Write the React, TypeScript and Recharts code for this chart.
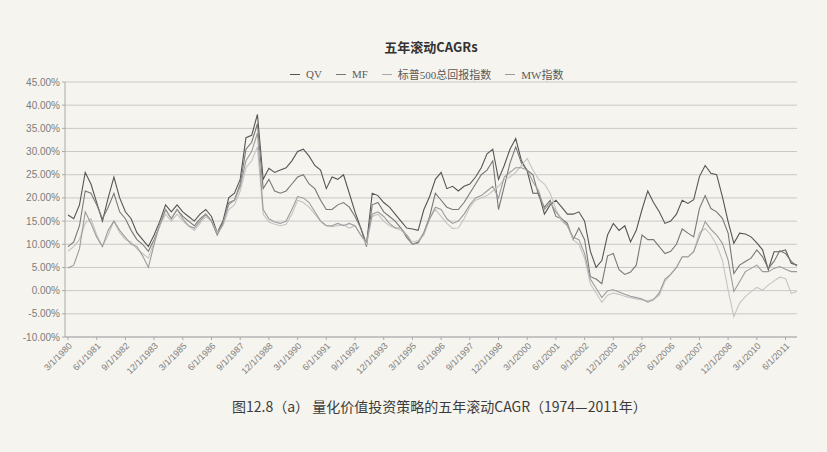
import React from 'react';
import { LineChart, Line, XAxis, YAxis, CartesianGrid } from 'recharts';

// quarterly points, 3/1980 .. 12/2011
const dates = Array.from({ length: 128 }, (_, i) => `${3 + (i % 4) * 3}/1/${1980 + Math.floor(i / 4)}`);

const qv = [
  16.3, 15.5, 18.5, 25.5, 23, 19, 15, 20, 24.5, 20,
  17, 15.5, 12.5, 11, 9.5, 12, 15, 18.5, 17, 18.5,
  17, 16, 15, 16.5, 17.5, 16, 12.5, 15, 20, 21,
  24, 33, 33.5, 38, 24, 26.4, 25.5, 26, 26.5, 28,
  30, 30.5, 29, 27, 26, 22, 24.5, 24, 25, 21,
  17, 13.5, 10, 21, 20.5, 19, 18, 16.5, 15, 13.5,
  13.3, 13, 17.5, 20.3, 24, 25.5, 22, 22.5, 21.5, 22.5,
  23, 24.5, 26.5, 29.5, 30.5, 24, 27, 30.5, 32.8, 28,
  25.8, 21, 21, 16.5, 18.5, 19.5, 18, 16.5, 16.5, 17,
  15, 8.5, 5, 6.5, 12, 14.5, 13, 14, 10.5, 13,
  17.5, 21.5, 19, 17, 14.5, 15, 16.5, 19.5, 18.8, 19.6,
  24.6, 27, 25.3, 25, 20.3, 14.9, 10.2, 12.4, 12.2, 11.6,
  10.3, 8.8, 4.5, 8.4, 8.4, 8.8, 5.9, 5.5,
];

const mf = [
  9.5, 10.5, 14, 21.5, 21, 18.5, 15.5, 18, 21, 17,
  15.5, 13, 11, 10, 8.5, 11, 14, 17.5, 15.5, 17.5,
  16, 15, 14, 15.5, 16.5, 15, 12, 14.5, 19, 19.5,
  23, 30.5, 32, 36, 22, 24, 21.5, 21, 21.5, 23,
  24.5, 25, 23, 22, 19.5, 17.5, 17.5, 18.5, 19, 18,
  16, 13.5, 9.5, 18.5, 19, 17, 16, 15, 13.5, 11.5,
  10, 10.5, 12.5, 16, 21, 19.5, 18, 17.5, 17.5, 19,
  21, 23, 25, 26, 28, 17.5, 22.5, 27.5, 31, 27.5,
  26, 25, 20.5, 18, 19.5, 16, 15.5, 14.5, 11, 13.5,
  11, 3, 2.5, 1.5, 7.5, 8, 4.5, 3.5, 4, 5.5,
  12, 11, 11, 9.5, 8, 8.5, 10, 13.3, 12.4, 11.6,
  17.7, 20.5, 17.7, 17, 15.6, 12.4, 3.7, 5.5, 6.3, 7,
  8.8, 7.3, 4.8, 6.3, 8.6, 8, 6.3, 5.3,
];

const sp500 = [
  8.5, 9.5, 11, 14.5, 15.5, 12, 9.5, 12, 15, 12.5,
  11, 10.5, 9, 8, 7, 10.5, 14, 16.5, 15, 16.5,
  15, 14, 13, 14.5, 16, 15, 12.5, 14, 17.5, 18.5,
  21.5, 26.5, 28, 31, 16.5, 14.8, 14.3, 14, 14.3, 16.5,
  19.5, 19, 18, 16.5, 15, 14, 13.8, 14, 14.2, 13.5,
  14, 12, 10, 16, 16.5, 15, 14, 13.5, 13, 12,
  10.5, 10.8, 12, 15.5, 17.5, 16, 14.5, 13.4, 13.5, 15.5,
  18, 19.5, 20, 20.5, 21.5, 22.5, 24, 24.5, 25.5, 27,
  28.5, 26, 24, 23, 21, 17.5, 15, 14, 11, 10,
  7, 1.5, -0.5, -2.5, -1, -0.5, -0.8, -1.2, -1.5, -1.8,
  -2, -2.2, -1.8, -1, 2, 3.5, 5, 7.3, 7.2, 8.4,
  12.5, 13.4, 12, 9.8, 6.6, 0.1, -5.6, -2.7, -1.3, -0.2,
  0.7, 0.1, 1.2, 2.1, 2.9, 2.6, -0.6, -0.2,
];

const mw = [
  4.9, 5.5, 9, 17, 14.5, 11.5, 9.5, 13, 15, 13,
  11.5, 10, 9.5, 7.5, 5, 10, 14.5, 17.5, 15.5, 17.5,
  15.5, 14, 13.5, 15, 16.5, 15, 12, 14.5, 18.5, 19.5,
  22.5, 28, 30, 34, 17.5, 15.5, 14.8, 14.5, 15, 17.5,
  20.3, 20, 19, 17, 15, 14, 14, 14.5, 14, 14.5,
  14, 12, 10.5, 16.5, 17, 16, 14.5, 13.5, 13.5, 12,
  10, 10.2, 12.5, 15.5, 18, 17.5, 15.5, 14.5, 15, 16.5,
  18.5, 20, 20.5, 21.5, 22.5, 20, 24.5, 25.5, 26.5, 26.5,
  26, 23.5, 21.5, 17.5, 19, 17, 15.5, 14, 11.5, 11,
  8, 2.5, 0.5, -1.5, 0, 0.2, -0.3, -0.8, -1.2, -1.5,
  -1.8, -2.5, -2, -0.5, 2.5, 3.5, 5, 7.3, 7.3, 8.4,
  11.6, 14.9, 13.2, 12, 10.2, 6.6, -0.2, 1.9, 4.1, 4.8,
  5.5, 4.1, 4.1, 4.8, 5.2, 4.6, 4.1, 4.1,
];

const yTicks = [-10, -5, 0, 5, 10, 15, 20, 25, 30, 35, 40, 45];

const seriesNames = ['QV', 'MF', '标普500总回报指数', 'MW指数'];
const seriesColors = ['#555555', '#787878', '#c4c4c4', '#9c9c9c'];

const data = dates.map((date, i) => ({
  date,
  qv: qv[i],
  mf: mf[i],
  sp500: sp500[i],
  mw: mw[i],
}));

const seriesKeys = ['qv', 'mf', 'sp500', 'mw'];

export default function App() {
  return (
    <div
      style={{
        position: 'absolute',
        left: 0,
        top: 0,
        width: 827,
        height: 452,
        background: '#f6f4ee',
        fontFamily: '"Liberation Sans", "Noto Sans CJK SC", sans-serif',
      }}
    >
      <div
        style={{
          position: 'absolute',
          top: 37,
          left: 0,
          width: 862,
          textAlign: 'center',
          fontSize: 13,
          fontWeight: 'bold',
          color: '#333',
          fontFamily: '"Noto Sans CJK SC", sans-serif',
        }}
      >
        五年滚动CAGRs
      </div>

      <div
        style={{
          position: 'absolute',
          top: 66,
          left: 290,
          display: 'flex',
          gap: 14,
          fontSize: 11,
          color: '#5a5a5a',
          fontFamily: '"Liberation Serif", "Noto Sans CJK SC", serif',
        }}
      >
        {seriesNames.map((name, i) => (
          <span key={name} style={{ display: 'flex', alignItems: 'center' }}>
            <span
              style={{
                display: 'inline-block',
                width: 10,
                borderTop: `1.5px solid ${i === 2 ? '#aaa' : seriesColors[i]}`,
                marginRight: 6,
              }}
            />
            {name}
          </span>
        ))}
      </div>

      <LineChart
        width={827}
        height={452}
        data={data}
        margin={{ top: 82, right: 30, bottom: 60, left: 5 }}
        style={{ position: 'absolute', left: 0, top: 0 }}
      >
        <CartesianGrid vertical={false} stroke="#c8c8c8" />
        <XAxis
          dataKey="date"
          interval={4}
          height={55}
          padding={{ left: 3, right: 0 }}
          angle={-45}
          textAnchor="end"
          tick={{ fontSize: 9, fill: '#808080' }}
          tickSize={3}
          stroke="#aaaaaa"
        />
        <YAxis
          width={60}
          domain={[-10, 45]}
          ticks={yTicks}
          tickFormatter={(v: number) => `${v.toFixed(2)}%`}
          tick={{ fontSize: 10, fill: '#7c7c7c' }}
          tickSize={3}
          stroke="#aaaaaa"
        />
        {seriesKeys.map((key, i) => (
          <Line
            key={key}
            type="linear"
            dataKey={key}
            stroke={seriesColors[i]}
            strokeWidth={1.1}
            dot={false}
            isAnimationActive={false}
          />
        ))}
      </LineChart>

      <div
        style={{
          position: 'absolute',
          top: 396,
          left: 232,
          fontSize: 14,
          color: '#3c3c3c',
          fontFamily: '"Noto Sans CJK SC", sans-serif',
          whiteSpace: 'nowrap',
        }}
      >
        图12.8（a） 量化价值投资策略的五年滚动CAGR（1974—2011年）
      </div>
    </div>
  );
}
